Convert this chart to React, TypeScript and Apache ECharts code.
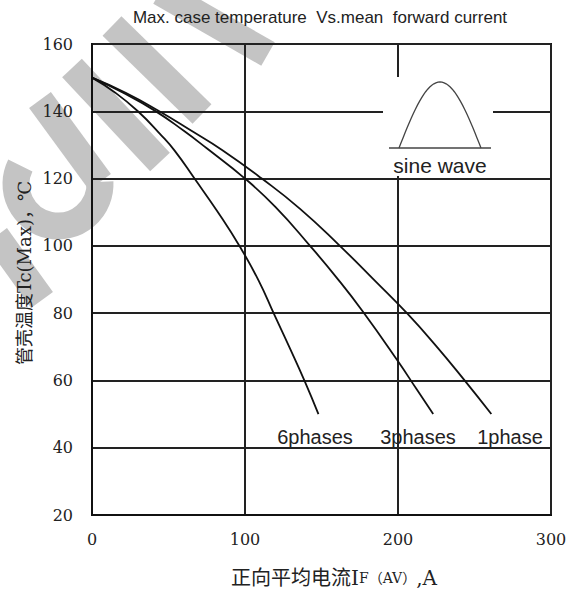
import React, { useEffect, useRef } from "react";
import * as echarts from "echarts";

const xTicks = [0, 100, 200, 300];
const yTicks = [20, 40, 60, 80, 100, 120, 140, 160];

const current6 = [0, 15, 30, 45, 54, 67, 82, 97, 109, 119, 129, 139, 148];
const temp6 = [150, 145.6, 140, 133, 128.3, 120, 110.2, 99.5, 89.6, 79.7, 69.9, 59.8, 50];

const current3 = [0, 20, 41, 60, 75, 100, 120, 142.5, 160, 177, 200, 212, 223];
const temp3 = [150, 145.6, 140.2, 134.2, 129, 120, 111.5, 100, 90.5, 80.5, 65.7, 57.5, 50];

const current1 = [0, 22, 44, 65, 85, 111, 136, 162, 185, 206, 225, 243, 261];
const temp1 = [150, 145.5, 140, 134.2, 128.5, 120, 111, 100, 89.6, 79.9, 70.2, 60.3, 50];

const seriesNames = ["6phases", "3phases", "1phase"];

const pairs = (xs: number[], ys: number[]) => xs.map((x, i) => [x, ys[i]]);

export default function App() {
  const ref = useRef<HTMLDivElement>(null);
  useEffect(() => {
    if (!ref.current) return;
    const chart = echarts.init(ref.current, null, { renderer: "svg" });
    const sinePts: number[][] = [];
    for (let i = 0; i <= 40; i++) {
      const t = i / 40;
      sinePts.push([399 + 82 * t, 148 - 66 * Math.sin(Math.PI * t)]);
    }
    const serif = "DejaVu Serif, Noto Sans CJK SC";
    const sans = "Liberation Sans, Arial, sans-serif";
    const lineStyle = { color: "#111", width: 1.8 };
    const wm = { stroke: "#c4c4c4", lineWidth: 27, lineCap: "butt", fill: null };
    const mkSeries = (name: string, xs: number[], ys: number[]) => ({
      name,
      type: "line",
      data: pairs(xs, ys),
      smooth: true,
      showSymbol: false,
      lineStyle,
      z: 3,
    });
    const option: any = {
      animation: false,
      backgroundColor: "#fff",
      grid: { left: 92, right: 25, top: 44, bottom: 76, show: true, borderColor: "#111", borderWidth: 2 },
      xAxis: {
        type: "value",
        min: xTicks[0],
        max: xTicks[xTicks.length - 1],
        interval: 100,
        axisLine: { show: true, lineStyle: { color: "#111", width: 2 } },
        axisTick: { show: false },
        splitLine: { show: true, lineStyle: { color: "#222", width: 2 } },
        axisLabel: { margin: 16, fontFamily: serif, fontSize: 16, color: "#222" },
      },
      yAxis: {
        type: "value",
        min: yTicks[0],
        max: yTicks[yTicks.length - 1],
        interval: 20,
        axisLine: { show: true, lineStyle: { color: "#111", width: 2 } },
        axisTick: { show: false },
        splitLine: { show: true, lineStyle: { color: "#222", width: 2 } },
        axisLabel: { margin: 19, fontFamily: serif, fontSize: 16, color: "#222" },
      },
      series: [
        mkSeries(seriesNames[0], current6, temp6),
        mkSeries(seriesNames[1], current3, temp3),
        mkSeries(seriesNames[2], current1, temp1),
      ],
      graphic: [
        // watermark strokes
        { type: "line", z: -10, silent: true, shape: { x1: 112, y1: 26, x2: 202, y2: 114 }, style: wm },
        { type: "line", z: -10, silent: true, shape: { x1: 72, y1: 68, x2: 160, y2: 162 }, style: wm },
        { type: "line", z: -10, silent: true, shape: { x1: 160, y1: -8, x2: 268, y2: 54 }, style: wm },
        { type: "line", z: -10, silent: true, shape: { x1: 40, y1: 100, x2: 100, y2: 182 }, style: wm },
        { type: "arc", z: -10, silent: true, shape: { cx: 58, cy: 184, r: 42, startAngle: -0.05, endAngle: 3.6, clockwise: true }, style: wm },
        { type: "line", z: -10, silent: true, shape: { x1: -4, y1: 236, x2: 42, y2: 300 }, style: wm },
        { type: "rect", z: 1, shape: { x: 383, y: 77, width: 110, height: 99 }, style: { fill: "#fff" } },
        { type: "polyline", z: 5, shape: { points: sinePts }, style: { stroke: "#444", lineWidth: 1.3, fill: null } },
        { type: "line", z: 5, shape: { x1: 389, y1: 148, x2: 491, y2: 148 }, style: { stroke: "#444", lineWidth: 1.5 } },
        { type: "text", z: 5, x: 440, y: 165, style: { text: "sine wave", fontFamily: sans, fontSize: 21, fill: "#222", align: "center", verticalAlign: "middle" } },
        { type: "text", z: 5, x: 315, y: 437, style: { text: seriesNames[0], fontFamily: sans, fontSize: 20, fill: "#222", align: "center", verticalAlign: "middle" } },
        { type: "text", z: 5, x: 418, y: 437, style: { text: seriesNames[1], fontFamily: sans, fontSize: 20, fill: "#222", align: "center", verticalAlign: "middle" } },
        { type: "text", z: 5, x: 510, y: 437, style: { text: seriesNames[2], fontFamily: sans, fontSize: 20, fill: "#222", align: "center", verticalAlign: "middle" } },
        { type: "text", z: 5, x: 320, y: 17, style: { text: "Max. case temperature  Vs.mean  forward current", fontFamily: sans, fontSize: 17, fill: "#222", align: "center", verticalAlign: "middle" } },
        {
          type: "text",
          z: 5,
          x: 334,
          y: 578,
          style: {
            text: "{a|正向平均电流I}{b|F（AV）}{a|,A}",
            align: "center",
            verticalAlign: "middle",
            rich: {
              a: { fontFamily: serif, fontSize: 20, fill: "#222" },
              b: { fontFamily: serif, fontSize: 14, fill: "#222" },
            },
          },
        },
        {
          type: "text",
          z: 5,
          x: 24,
          y: 273,
          rotation: Math.PI / 2,
          style: { text: "管壳温度Tc(Max)，℃", fontFamily: serif, fontSize: 18, fill: "#222", align: "center", verticalAlign: "middle" },
        },
      ],
    };
    chart.setOption(option);
    return () => chart.dispose();
  }, []);
  return <div ref={ref} style={{ position: "fixed", left: 0, top: 0, width: 576, height: 591 }} />;
}
